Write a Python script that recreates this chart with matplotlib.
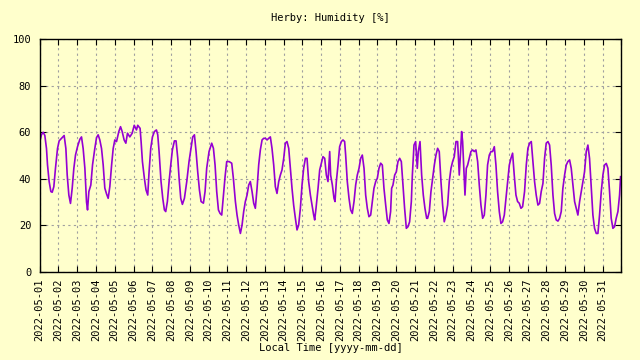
import matplotlib
matplotlib.use('Agg')
import matplotlib.pyplot as plt
import pandas as pd

# Hours since 2022-05-01 00:00 and humidity readings [%]
hours = [
    0.2, 2.3, 4.5, 6.6, 8.7, 10, 12.1, 14.3, 16, 18.1, 20.2, 22.8,
    24.9, 27.9, 31.3, 33.5, 35.2, 37.3, 39.4, 41.6, 43.7, 45.8, 48.4,
    51.4, 53.5, 55.6, 57.8, 59.9, 61.2, 62.9, 65.4, 67.6, 70.5, 72.7,
    74.8, 76.9, 79.1, 81.2, 83.3, 85.5, 87.6, 89.7, 92, 94, 96.1,
    98.3, 101.2, 103.4, 105.5, 108, 110.2, 112.3, 115.3, 118.3, 120.9,
    123.8, 125.4, 128.4, 129.7, 131.4, 133.9, 136, 138.2, 139.9, 142,
    144.2, 146.7, 149.3, 151, 152.7, 155.2, 157.4, 159.5, 161.2, 163.3,
    165.5, 167.6, 169.7, 172.3, 174.4, 176.6, 178.3, 180.4, 182.5,
    185.1, 188.1, 191, 193.6, 195.7, 197.9, 200, 202.1, 204.3, 206.4,
    209.4, 211.5, 213.6, 216.6, 220, 222.2, 224.3, 226.4, 228.6, 230.7,
    232.8, 235, 237.1, 239.2, 242.2, 245.6, 247.7, 250.3, 252.4, 254.5,
    256.7, 258.8, 260.9, 263, 265.2, 267.3, 269.4, 271.6, 273.7, 275.8,
    278, 280.1, 282.2, 284.4, 286.5, 288.6, 290.8, 292.9, 295, 297.1,
    299.3, 301.4, 303.5, 305.7, 307.8, 309.9, 312.1, 314.2, 316.3,
    318.5, 320.6, 322.7, 324.8, 327, 329.1, 331.2, 333.4, 335.5, 337.6,
    339.8, 341.9, 344, 346.2, 348.3, 350.4, 351.7, 353.4, 356, 358.1,
    360.2, 362.3, 364.5, 366.6, 368.7, 370.9, 372.1, 374.3, 376.4,
    377.7, 379.4, 381.5, 383.6, 385.8, 387.9, 390, 391.3, 393.4, 395.6,
    397.7, 399.8, 402, 404.1, 406.2, 408.4, 410.5, 412.6, 414.8, 416.9,
    419, 421.1, 423.3, 425.4, 427.5, 429.7, 431.8, 433.9, 436.1, 438.2,
    440.3, 442.5, 444.6, 446.7, 448.8, 450.1, 451.8, 454, 456.1, 458.2,
    460.4, 462.5, 464.6, 466.7, 468.9, 471, 473.1, 475.3, 476.6, 478.7,
    480.8, 482.9, 484.2, 486.4, 488.5, 490.6, 492.7, 494.9, 496.1,
    498.3, 500.4, 502.5, 504.7, 506.8, 508.9, 511, 513.2, 515.3, 517.4,
    519.6, 521.7, 523.8, 526, 528.1, 530.2, 532.4, 534.5, 536.6, 538.3,
    539.6, 540.9, 542.2, 543.9, 545.6, 547.3, 549.4, 551.5, 553.7,
    555.8, 557.9, 560.1, 562.2, 564.3, 566.5, 568.6, 570.7, 572.8, 575,
    577.1, 579.2, 581.4, 583.5, 585.6, 587.8, 589.9, 592, 594.2, 596.3,
    598.4, 600.6, 602.7, 604.8, 606.9, 609.1, 611.2, 613.3, 615.5,
    617.6, 620.1, 622.3, 624.4, 626.5, 628.7, 630.8, 632.9, 635, 637.2,
    639.3, 641.4, 643.6, 645.7, 647.8, 650, 652.1, 654.2, 656.4, 658.5,
    660.6, 662.8, 664.9, 667, 669.1, 671.3, 673.4, 675.5, 677.7, 679.8,
    681.9, 684.1, 686.2, 688.3, 690.5, 692.6, 694.7, 696.8, 699, 701.1,
    703.2, 705.4, 707.5, 709.6, 711.8, 713.9, 716, 718.2, 720.3, 722.4,
    724.6, 726.7, 728.8, 730.9, 733.1, 735.2, 737.3, 739.5, 741.6, 742.9,
]
humidity = [
    56, 59, 60, 58.6, 53, 46, 38.8, 34.5, 34.2, 36.6, 44.5, 53,
    56.3, 57.4, 58.6, 53, 41.6, 33, 29.4, 36, 44.5, 50.2, 53.8,
    57, 58, 53, 44.5, 30, 26.6, 34.5, 37.3, 46, 53, 57.7,
    58.9, 56.7, 53, 46, 36, 33.5, 31.6, 36.6, 46, 53, 56.7,
    56, 60.3, 62.4, 60.3, 56.7, 55.3, 59.6, 58, 59.6, 63,
    61, 63, 61.7, 56, 47.4, 40.2, 35.2, 33, 43, 53,
    58, 60.3, 61, 58.9, 51.7, 38.8, 31.6, 26.6, 25.9, 30.2,
    38.8, 45.9, 52.4, 56.3, 56.3, 48.8, 40.2, 31.6, 29,
    31.6, 38.8, 47.4, 53.1, 58, 58.9, 51.7, 43, 35.2, 30.2,
    29.5, 34.5, 44.5, 51.7, 55.3, 53.1, 45.9, 34.5, 26.6, 25.1,
    24.4, 33, 40.9, 47.4, 47.4, 46.7, 40.2, 30.2, 24.4, 20.1,
    16.5, 20.1, 25.9, 30.2, 33, 37.3, 38.8, 34.5, 29.5, 27.3,
    35.9, 46, 52.4, 56.7, 57.4, 57.4, 56.7, 57.4, 58, 53.1,
    45.9, 36.6, 33.7, 38.8, 41.6, 43.8, 48.8, 55.3, 56,
    53.1, 44.5, 35.9, 28.7, 23, 18, 20.1, 27.3, 37.3, 44.5,
    48.8, 48.8, 38.8, 33, 28.7, 24.4, 22.3, 27.3, 35.9, 43.8,
    46.6, 49.5, 48.8, 41.6, 38.8, 51.7, 41.6, 37.3, 31.6,
    30.2, 38.8, 45.9, 53.8, 56, 56.7, 56, 50.2, 38.8, 31.6,
    26.6, 25.1, 30.2, 37.3, 41.6, 44.5, 48.8, 50.2, 44.5, 33,
    27.3, 23.7, 24.4, 30.2, 35.9, 38.8, 40.2, 44.5, 46.7, 45.9,
    35.9, 28.7, 22.3, 20.8, 25.9, 35.9, 37.3, 41.6, 43, 47.4,
    48.8, 47.4, 37.3, 27.3, 18.7, 19.4, 21.5, 30.2, 41.6, 54.5,
    56, 44.5, 51.7, 56, 41.6, 33, 27.3, 23, 23,
    25.9, 34.5, 40.2, 45.9, 50.2, 53.1, 51.7, 38.8, 28.7, 21.5,
    24.4, 28.7, 38.8, 44.5, 47.4, 49.5, 56, 56, 41.6, 51.7,
    60.3, 56, 45.9, 33, 44.5, 45.9, 48.8, 51.7, 52.4,
    51.7, 52.4, 47.4, 37.3, 28.7, 23, 24.4, 33, 45.9, 50.2,
    51.7, 51.7, 53.8, 45.9, 34.5, 25.9, 20.8, 21.5, 24.4, 31.6,
    38.8, 45.9, 48.8, 51, 41.6, 33, 30.2, 29.5, 27.3,
    28, 34.5, 45.9, 53.1, 55.3, 56, 47.4, 38.8, 33, 28.7,
    29.4, 34.5, 38, 48.8, 55.3, 56, 54.5, 45.9, 33, 25.1,
    22.3, 21.8, 23, 25.9, 35.9, 41.6, 45.9, 47.4, 48.1, 44.5,
    37.3, 30.2, 27.3, 24.4, 30.2, 34.5, 38.8, 43, 51.7, 54.5,
    48.8, 35.9, 24.4, 18.7, 16.5, 16.5, 24.4, 34.5, 41.6, 45.9,
    46.6, 44.5, 34.5, 23, 18.7, 19.4, 23, 25.9, 33, 40.9,
]

start = pd.Timestamp('2022-05-01')
end = pd.Timestamp('2022-06-01')
times = start + pd.to_timedelta(hours, unit='h')

bg = '#ffffcc'
plt.rcParams['font.family'] = ['DejaVu Sans Mono']

fig = plt.figure(figsize=(6.4, 3.6), dpi=100, facecolor=bg)
ax = fig.add_axes([0.062, 0.245, 0.909, 0.646], facecolor=bg)

ax.plot(times, humidity, color='#9400d3', linewidth=1.2)

ax.set_xlim(start, end)
ax.set_ylim(0, 100)
ax.set_yticks(range(0, 101, 20))

# 每天一个刻度, 最后一天 (06-01) 不标注
ticks = pd.date_range(start, end, freq='D')
ax.set_xticks(ticks)
ax.set_xticklabels([t.strftime('%Y-%m-%d') if t < end else '' for t in ticks],
                   rotation=90, fontsize=7.5)
ax.tick_params(axis='y', labelsize=7.5, pad=6)
ax.tick_params(axis='x', pad=5)
ax.tick_params(axis='both', direction='in', length=4, width=0.8,
               top=True, right=True)

ax.grid(True, color='#a0a0a0', linestyle=(0, (2, 3)), linewidth=0.8)
for spine in ax.spines.values():
    spine.set_linewidth(1.0)
    spine.set_color('black')

ax.set_title('Herby: Humidity [%]', fontsize=7.5, pad=13)
ax.set_xlabel('Local Time [yyyy-mm-dd]', fontsize=7.5, labelpad=1)

fig.savefig('out.png', dpi=100, facecolor=bg)
